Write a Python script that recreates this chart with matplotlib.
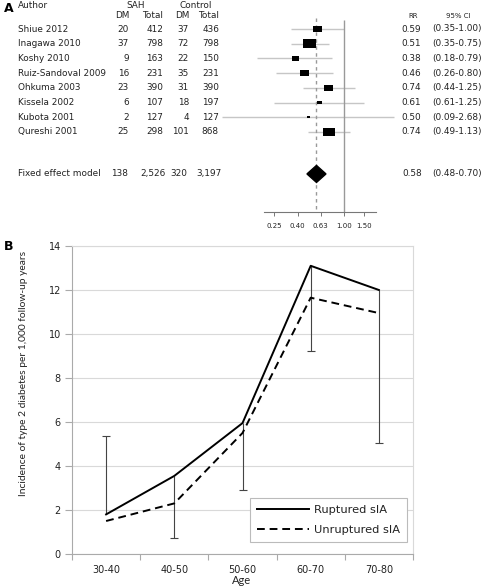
import numpy as np
import matplotlib
matplotlib.use("Agg")
import matplotlib.pyplot as plt
from matplotlib.patches import Polygon

W, H = 483, 588

# ---- panel A: meta-analysis table
authors = ["Shiue 2012", "Inagawa 2010", "Koshy 2010", "Ruiz-Sandoval 2009",
           "Ohkuma 2003", "Kissela 2002", "Kubota 2001", "Qureshi 2001"]
sah_dm = [20, 37, 9, 16, 23, 6, 2, 25]
sah_total = [412, 798, 163, 231, 390, 107, 127, 298]
ctl_dm = [37, 72, 22, 35, 31, 18, 4, 101]
ctl_total = [436, 798, 150, 231, 390, 197, 127, 868]
rr = [0.59, 0.51, 0.38, 0.46, 0.74, 0.61, 0.50, 0.74]
ci_labels = ["(0.35-1.00)", "(0.35-0.75)", "(0.18-0.79)", "(0.26-0.80)",
             "(0.44-1.25)", "(0.61-1.25)", "(0.09-2.68)", "(0.49-1.13)"]
# drawn whiskers
ci_low = [0.35, 0.35, 0.18, 0.26, 0.44, 0.25, 0.09, 0.49]
ci_high = [1.00, 0.75, 0.79, 0.80, 1.25, 1.49, 2.68, 1.13]
weights = [12.7, 26.4, 7.7, 12.7, 12.7, 3.9, 1.4, 22.5]
pooled_counts = ["138", "2,526", "320", "3,197"]
pooled_rr = 0.58
pooled_low, pooled_high = 0.48, 0.70
rr_ticks = [0.25, 0.40, 0.63, 1.00, 1.50]

# ---- panel B: incidence by age
ages = ["30-40", "40-50", "50-60", "60-70", "70-80"]
ruptured = [1.8, 3.55, 5.95, 13.1, 12.0]
unruptured = [1.5, 2.3, 5.5, 11.65, 10.95]
bar_end = [5.35, 0.75, 2.92, 9.25, 5.05]

txt = '#222222'
fig = plt.figure(figsize=(W / 100, H / 100), dpi=100)


def px_axes(x0, y0, x1, y1):
    return fig.add_axes([x0 / W, 1 - y1 / H, (x1 - x0) / W, (y1 - y0) / H])


# overlay for table text, in pixels
tx = px_axes(0, 0, W, H)
tx.set_xlim(0, W)
tx.set_ylim(H, 0)
tx.axis('off')

row_y0, row_dy = 29, 14.7
pool_row = 9.86
fs = 6.4
tx.text(4, 8, "A", fontsize=9, fontweight='bold', va='center', color='black')
tx.text(4, 247, "B", fontsize=9, fontweight='bold', va='center', color='black')
tx.text(18, 5, "Author", fontsize=fs, va='center', color=txt)
tx.text(136, 5, "SAH", fontsize=fs, va='center', ha='center', color=txt)
tx.text(196, 5, "Control", fontsize=fs, va='center', ha='center', color=txt)
cols = [129, 163, 189, 219]
for c, lab in zip(cols, ["DM", "Total", "DM", "Total"]):
    tx.text(c, 16, lab, fontsize=fs, va='center', ha='right', color=txt)
tx.text(413, 16, "RR", fontsize=5, va='center', ha='center', color=txt)
tx.text(458, 16, "95% CI", fontsize=5, va='center', ha='center', color=txt)

for i, a in enumerate(authors):
    y = row_y0 + i * row_dy
    tx.text(18, y, a, fontsize=fs, va='center', color=txt)
    for c, v in zip(cols, [sah_dm[i], sah_total[i], ctl_dm[i], ctl_total[i]]):
        tx.text(c, y, str(v), fontsize=fs, va='center', ha='right', color=txt)
    tx.text(411, y, "%.2f" % rr[i], fontsize=fs, va='center', ha='center', color=txt)
    tx.text(432, y, ci_labels[i], fontsize=fs, va='center', ha='left', color=txt)

yp = row_y0 + pool_row * row_dy
tx.text(18, yp, "Fixed effect model", fontsize=fs, va='center', color=txt)
for c, v in zip([128, 166, 187, 222], pooled_counts):
    tx.text(c, yp, v, fontsize=fs, va='center', ha='right', color=txt)
tx.text(412, yp, "%.2f" % pooled_rr, fontsize=fs, va='center', ha='center', color=txt)
tx.text(432, yp, "(%.2f-%.2f)" % (pooled_low, pooled_high), fontsize=fs,
        va='center', ha='left', color=txt)

# forest plot
fx0, fx1 = 200, 400
one_px, px_per_ln = 344, 50.5
fa = px_axes(fx0, 18, fx1, 212)
fa.patch.set_alpha(0)
fa.set_xscale('log')
fa.set_xlim(np.exp((fx0 - one_px) / px_per_ln), np.exp((fx1 - one_px) / px_per_ln))
fa.set_ylim(12.45, -0.75)
rows = np.arange(len(authors))
fa.hlines(rows, ci_low, ci_high, color='#c6c6c6', lw=1, zorder=1)
fa.vlines(1.0, -0.6, 12.45, color='#999999', lw=1, zorder=2)
fa.vlines(pooled_rr, -0.75, 12.45, color='#999999', lw=1,
          linestyles=(0, (2.5, 2.5)), zorder=2)
box = [(-1, -0.68), (1, -0.68), (1, 0.68), (-1, 0.68), (-1, -0.68)]
side_px = 2.53 * np.sqrt(weights)
fa.scatter(rr, rows, s=(side_px * 0.72) ** 2, marker=box, color='black',
           linewidths=0, zorder=3)
fa.add_patch(Polygon([(pooled_low, pool_row), (pooled_rr, pool_row - 0.58),
                      (pooled_high, pool_row), (pooled_rr, pool_row + 0.58)],
                     closed=True, color='black', zorder=4))
for s in ['top', 'left', 'right']:
    fa.spines[s].set_visible(False)
fa.spines['bottom'].set_bounds(0.205, 1.88)
fa.spines['bottom'].set_color('#777777')
fa.spines['bottom'].set_linewidth(0.8)
fa.set_yticks([])
fa.set_xticks(rr_ticks)
fa.set_xticks([], minor=True)
fa.set_xticklabels(["%.2f" % t for t in rr_ticks])
fa.tick_params(axis='x', labelsize=5, length=3, width=0.7, color='#777777',
               pad=5, labelcolor=txt)

# ---- panel B
bx = px_axes(72, 246, 413, 554)
x = np.arange(len(ages))
bx.set_xlim(-0.5, len(ages) - 0.5)
bx.set_ylim(0, 14)
bx.set_yticks(np.arange(0, 15, 2))
bx.grid(axis='y', color='#d9d9d9', lw=0.8)
bx.set_axisbelow(True)
bx.vlines(x, ruptured, bar_end, color='#444444', lw=0.8, zorder=2)
bx.plot(x, bar_end, ls='none', marker='_', ms=6, mew=0.8, color='#444444', zorder=2)
bx.plot(x, ruptured, color='black', lw=1.4, label='Ruptured sIA', zorder=3)
bx.plot(x, unruptured, color='black', lw=1.4, ls=(0, (4, 2.5)),
        label='Unruptured sIA', zorder=3)
bx.set_xticks(x)
bx.set_xticklabels(ages)
bx.set_xticks(np.arange(-0.5, len(ages)), minor=True)
bx.tick_params(axis='x', which='major', length=0, labelsize=7, pad=8, labelcolor=txt)
bx.tick_params(axis='x', which='minor', length=4, width=0.8, color='#aaaaaa')
bx.tick_params(axis='y', length=5, width=0.8, color='#aaaaaa', labelsize=7,
               pad=3, labelcolor=txt)
for s in ['left', 'bottom']:
    bx.spines[s].set_color('#aaaaaa')
    bx.spines[s].set_linewidth(0.8)
for s in ['top', 'right']:
    bx.spines[s].set_color('#d9d9d9')
    bx.spines[s].set_linewidth(0.8)
leg = bx.legend(loc='lower right', bbox_to_anchor=(0.982, 0.039), borderaxespad=0,
                fontsize=8.2, handlelength=4.6, handletextpad=0.45, labelspacing=0.9,
                borderpad=0.6, fancybox=False, edgecolor='#bbbbbb', framealpha=1)
leg.get_frame().set_linewidth(0.8)
for t in leg.get_texts():
    t.set_color(txt)

fig.text(24 / W, 1 - 373 / H, "Incidence of type 2 diabetes per 1,000 follow-up years",
         rotation=90, ha='center', va='center', fontsize=7.4, color=txt,
         family=['Lato', 'DejaVu Sans'])
fig.text(242 / W, 1 - 581 / H, "Age", ha='center', va='center', fontsize=8,
         color=txt, family=['Lato', 'DejaVu Sans'])

fig.savefig("out.png", dpi=100)
